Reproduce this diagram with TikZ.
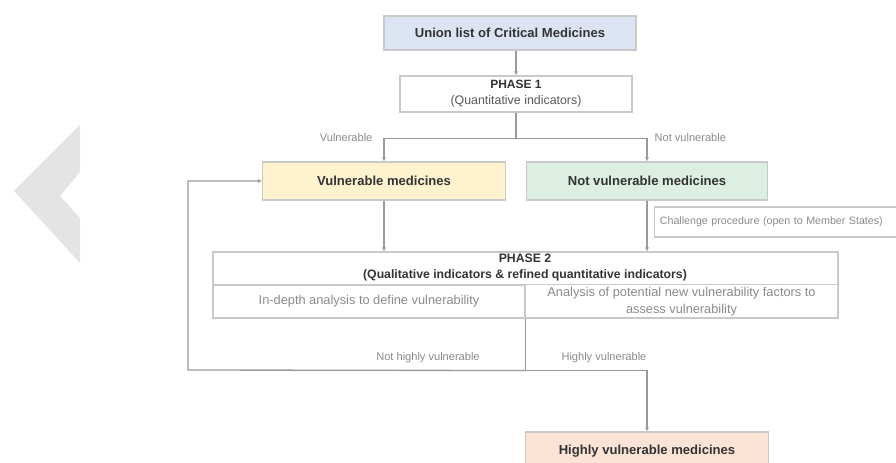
\documentclass[tikz,border=0pt]{standalone}
\usepackage{fontspec}
\setmainfont{Liberation Sans}
\usetikzlibrary{arrows.meta}
\definecolor{boxline}{HTML}{C9C9C9}
\definecolor{flowline}{HTML}{9A9A9A}
\definecolor{unionfill}{HTML}{DCE4F4}
\definecolor{vulnfill}{HTML}{FFF3CF}
\definecolor{safefill}{HTML}{DDEFE3}
\definecolor{highfill}{HTML}{FBE3D5}
\definecolor{labelgrey}{HTML}{8A8A8A}
\definecolor{chevgrey}{HTML}{E4E4E4}
\begin{document}
\begin{tikzpicture}[x=0.75pt,y=-0.75pt,
    stagebox/.style={draw=boxline, line width=0.8pt, inner sep=2pt, font=\fontsize{9.8}{11}\selectfont\bfseries, text=black!80},
    phasebox/.style={draw=boxline, line width=0.8pt, fill=white, inner sep=2pt, align=center},
    subbox/.style={draw=boxline, line width=0.8pt, inner sep=2pt, align=center, text=labelgrey, font=\fontsize{9.6}{12.5}\selectfont},
    flow/.style={draw=flowline, line width=1pt},
    flowarrow/.style={flow, -{Latex[length=3pt,width=3pt]}},
    lbl/.style={text=labelgrey, font=\fontsize{8.3}{9.5}\selectfont, inner sep=1pt}]
  \useasboundingbox (0,0) rectangle (896,463);

  % grey chevron on the left
  \fill[chevgrey] (80,125) -- (14,191) -- (80,263) -- (80,218) -- (60,196) -- (80,172) -- cycle;

  \node[stagebox, fill=unionfill, minimum width=189pt, minimum height=25.5pt] (union) at (510,33) {Union list of Critical Medicines};
  \node[phasebox, minimum width=174pt, minimum height=27pt] (phase1) at (516,94)
    {{\fontsize{9}{12}\selectfont\bfseries\color{black!80} PHASE 1}\\{\fontsize{9.3}{12}\selectfont\color{black!65}(Quantitative indicators)}};

  \node[stagebox, fill=vulnfill, minimum width=182pt, minimum height=28.5pt] (vuln) at (384,181) {Vulnerable medicines};
  \node[stagebox, fill=safefill, minimum width=181pt, minimum height=28.5pt] (notvuln) at (647,181) {Not vulnerable medicines};
  \node[subbox, anchor=west, align=left, text width=200pt, minimum height=22.5pt, inner sep=4pt, font=\fontsize{8}{10}\selectfont] (challenge) at (654,222) {Challenge procedure (open to Member States)};

  \node[draw=boxline, line width=0.8pt, minimum width=468.75pt, minimum height=49.5pt] (phase2) at (525.5,285) {};
  \node[align=center, inner sep=0pt, font=\fontsize{9.2}{12}\selectfont\bfseries, text=black!80] (phase2head) at (525,267.5)
    {PHASE 2\\(Qualitative indicators \& refined quantitative indicators)};
  \node[subbox, minimum width=234pt, minimum height=24.75pt] (depth) at (369,301.5) {In-depth analysis to define vulnerability};
  \node[subbox, minimum width=234.75pt, minimum height=24.75pt] (newfactors) at (681.5,301.5) {Analysis of potential new vulnerability factors to\\assess vulnerability};

  \node[stagebox, fill=highfill, minimum width=182pt, minimum height=29.25pt] (high) at (647,451.5) {Highly vulnerable medicines};

  \draw[flowarrow] (phase1.north |- union.south) -- (phase1.north);
  \draw[flow] (phase1.south) -- ++(0,26) coordinate (split);
  \draw[flowarrow] (split) -| (vuln.north);
  \draw[flowarrow] (split) -| (notvuln.north);
  \node[lbl, anchor=east] (lblvuln) at (374,138) {Vulnerable};
  \node[lbl, anchor=west] (lblnot) at (653,138) {Not vulnerable};

  \draw[flowarrow] (vuln.south) -- (vuln.south |- phase2.north);
  \draw[flowarrow] (notvuln.south) -- (notvuln.south |- phase2.north);

  \draw[flow] (depth.south east) -- ++(0,52) coordinate (loop);
  \coordinate (back) at (188,370);
  \draw[flowarrow] (loop) -- (back) |- (vuln.west);
  \draw[flowarrow] (loop) -| (high.north);
  \node[lbl] (lblnothigh) at (428,358) {Not highly vulnerable};
  \node[lbl, anchor=east] (lblhigh) at (648,358) {Highly vulnerable};
\end{tikzpicture}
\end{document}
